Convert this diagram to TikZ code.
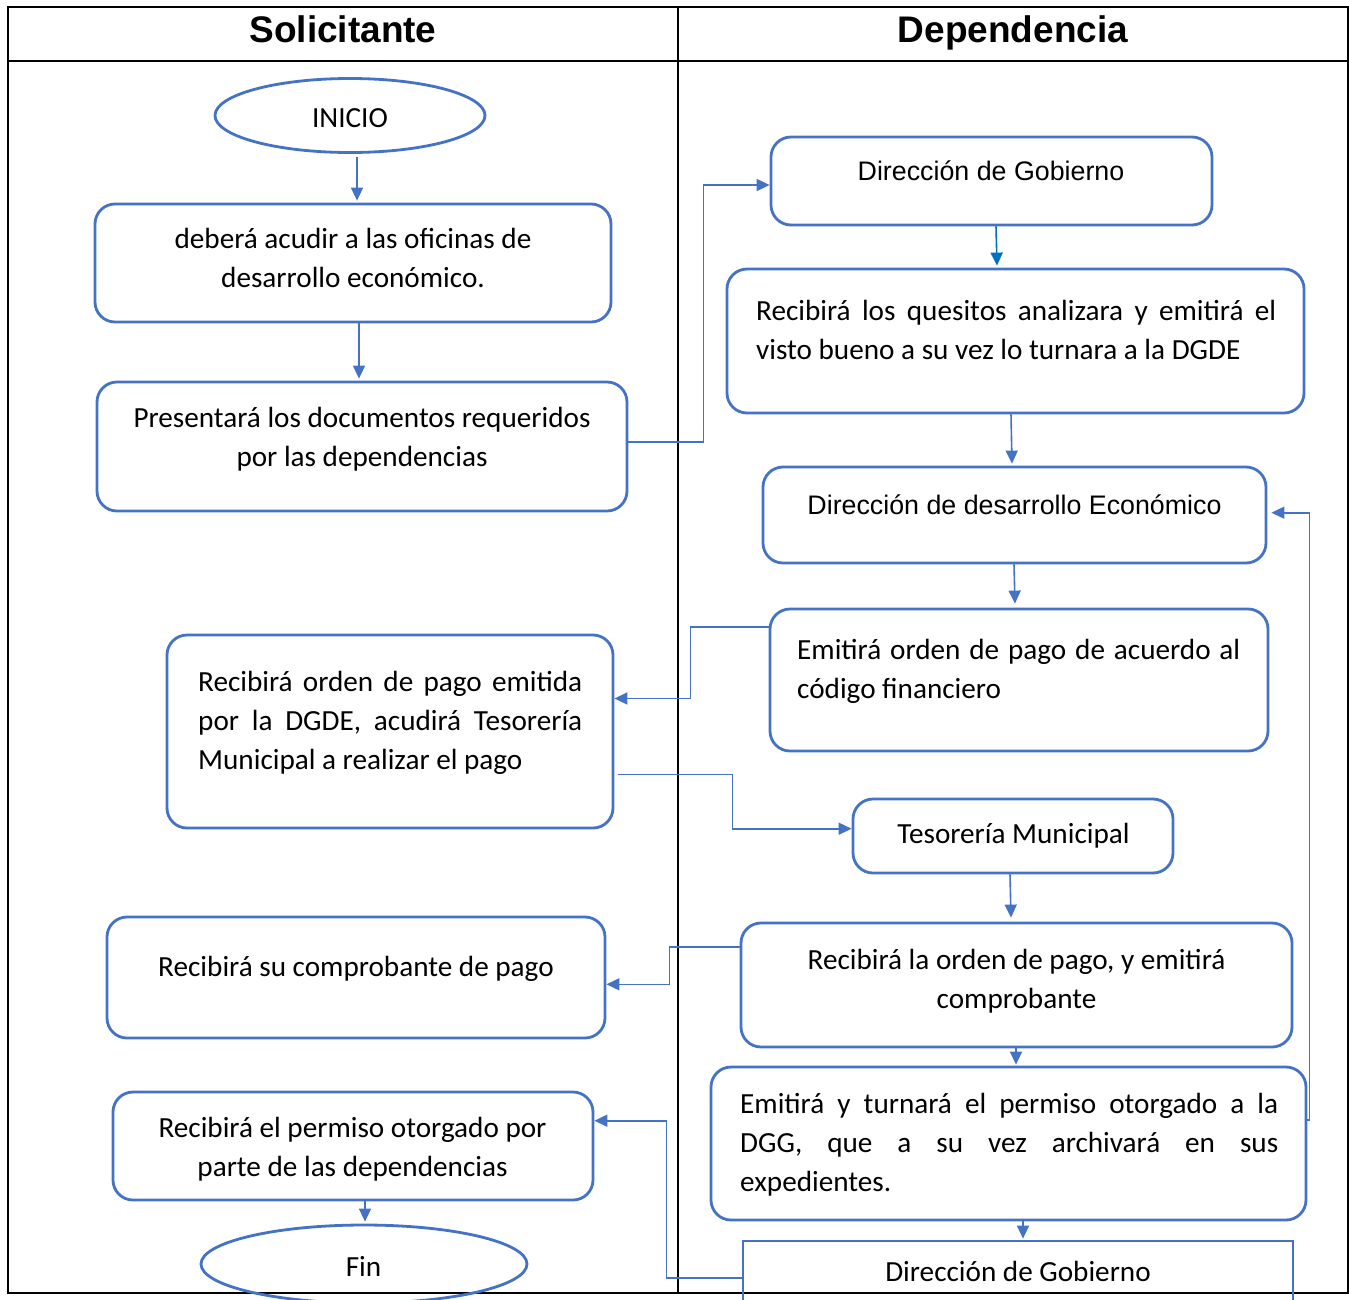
\documentclass[tikz,border=0pt]{standalone}
\usepackage{fontspec}
\setmainfont{Carlito}
\newfontfamily\arialfont{Liberation Sans}
\usetikzlibrary{arrows.meta,shapes.geometric}
\definecolor{flowblue}{HTML}{4472C4}
\definecolor{deepblue}{HTML}{0070C0}
% a line spread to a fixed width (justified)
\newcommand\fullline[2]{\makebox[#1][s]{#2}}
\begin{document}
\begin{tikzpicture}[x=1pt,y=-1pt,
  box/.style={draw=flowblue,line width=2.8pt,rounded corners=20pt,inner sep=0pt,fill=none},
  sharpbox/.style={draw=flowblue,line width=2.8pt,inner sep=0pt},
  oval/.style={ellipse,draw=flowblue,line width=2.8pt,inner sep=0pt},
  txt/.style={inner sep=0pt,font=\fontsize{29.2}{39}\selectfont,align=center},
  jtxt/.style={inner sep=0pt,font=\fontsize{29.2}{39}\selectfont,align=left,anchor=north west},
  atxt/.style={inner sep=0pt,font=\arialfont\fontsize{26.8}{33}\selectfont,anchor=base},
  head/.style={inner sep=0pt,font=\arialfont\bfseries\fontsize{37}{44}\selectfont,anchor=base},
  conn/.style={draw=flowblue,line width=1.6pt,-{Triangle[length=13pt,width=12pt]}},
  table/.style={draw=black,line width=2pt}]
\clip (0,0) rectangle (1349,1299);
\fill[white] (0,0) rectangle (1349,1299);

% swimlane table
\draw[table] (8,7) rectangle (1347.5,1293);
\draw[table] (8,61) -- (1347.5,61);
\draw[table] (678,7) -- (678,1293);
\node[head] (hSol) at (343,42) {Solicitante};
\node[head] (hDep) at (1013,42) {Dependencia};

% left lane: applicant
\node[oval,minimum width=270pt,minimum height=74pt] (b1) at (350,115.5) {};
\node[box,minimum width=516pt,minimum height=118pt] (b2) at (353,263) {};
\node[box,minimum width=530pt,minimum height=129pt] (b3) at (362,446.5) {};
\node[box,minimum width=446pt,minimum height=193pt] (b4) at (390,731.5) {};
\node[box,minimum width=498pt,minimum height=121pt] (b5) at (356,977.5) {};
\node[box,minimum width=480pt,minimum height=108pt] (b6) at (353,1146) {};
\node[oval,minimum width=326pt,minimum height=78pt] (b7) at (364,1264) {};

\node[txt,anchor=base] (t1) at (350,127.5) {INICIO};
\node[txt,anchor=north] (t2) at (353,220.7) {\strut deberá acudir a las oficinas de\\desarrollo económico.};
\node[txt,anchor=north] (t3) at (362,399.7) {\strut Presentará los documentos requeridos\\por las dependencias};
\node[jtxt] (t4) at (198,663.7) {\strut\fullline{384pt}{Recibirá orden de pago emitida}\\
  \fullline{384pt}{por la DGDE, acudirá Tesorería}\\Municipal a realizar el pago};
\node[txt,anchor=base] (t5) at (356,976) {Recibirá su comprobante de pago};
\node[txt,anchor=north] (t6) at (352.5,1109.7) {\strut Recibirá el permiso otorgado por\\parte de las dependencias};
\node[txt,anchor=base] (t7) at (363.5,1276) {Fin};

% right lane: offices
\node[box,minimum width=441pt,minimum height=88pt] (d1) at (991.5,181) {};
\node[box,minimum width=577pt,minimum height=144pt] (d2) at (1015.5,341) {};
\node[box,minimum width=503pt,minimum height=96pt] (d3) at (1014.5,515) {};
\node[box,minimum width=498pt,minimum height=142pt] (d4) at (1019,680) {};
\node[box,minimum width=320pt,minimum height=74pt] (d5) at (1013,836) {};
\node[box,minimum width=551pt,minimum height=124pt] (d6) at (1016.5,985) {};
\node[box,minimum width=595pt,minimum height=153pt] (d7) at (1008.5,1143.5) {};
\node[sharpbox,minimum width=550pt,minimum height=90pt] (d8) at (1018,1286) {};

\node[atxt] (s1) at (991,180) {Dirección de Gobierno};
\node[jtxt] (s2) at (756,292.7) {\strut\fullline{520pt}{Recibirá los quesitos analizara y emitirá el}\\
  visto bueno a su vez lo turnara a la DGDE};
\node[atxt] (s3) at (1014.5,514) {Dirección de desarrollo Económico};
\node[jtxt] (s4) at (797,631.7) {\strut\fullline{443pt}{Emitirá orden de pago de acuerdo al}\\código financiero};
\node[txt,anchor=base] (s5) at (1013.5,843) {Tesorería Municipal};
\node[txt,anchor=north] (s6) at (1016.5,941.7) {\strut Recibirá la orden de pago, y emitirá\\comprobante};
\node[jtxt] (s7) at (740,1085.7) {\strut\fullline{538pt}{Emitirá y turnará el permiso otorgado a la}\\
  \fullline{538pt}{DGG, que a su vez archivará en sus}\\expedientes.};
\node[txt,anchor=base] (s8) at (1018,1281) {Dirección de Gobierno};

% connectors
\draw[conn,shorten <=3pt] ([xshift=7pt]b1.south) -- ([xshift=4pt,yshift=2pt]b2.north);
\draw[conn] ([xshift=6pt]b2.south) -- ([xshift=-3pt,yshift=2pt]b3.north);
\draw[conn] ([yshift=4.5pt]b3.east) -- ++(75,0) |- ([yshift=-4pt]d1.west);
\draw[conn,draw=deepblue] ([xshift=4.5pt]d1.south) -- ([xshift=-18.5pt,yshift=2pt]d2.north);
\draw[conn] ([xshift=-4.5pt]d2.south) -- ([xshift=-2.5pt,yshift=2pt]d3.north);
\draw[conn] ([xshift=-0.5pt]d3.south) -- ([xshift=-4pt,yshift=4pt]d4.north);
\draw[conn] ([yshift=53pt]d4.west) -- ++(-78,0) |- ([yshift=33pt]b4.east);
\draw[conn] ([xshift=4pt,yshift=-42.8pt]b4.east) -- ++(114,0) |- ([yshift=7.3pt]d5.west);
\draw[conn] ([xshift=-3pt]d5.south) -- ([xshift=-5.5pt,yshift=4pt]d6.north);
\draw[conn] ([yshift=38.3pt]d6.west) -- ++(-70,0) |- ([yshift=-6.8pt]b5.east);
\draw[conn] ([xshift=-0.5pt]d6.south) -- ([xshift=7.5pt,yshift=1pt]d7.north);
\draw[conn] ([yshift=23.5pt]d7.east) -- ++(2,0) |- ([xshift=4pt,yshift=2.3pt]d3.east);
\draw[conn] ([xshift=14.5pt]d7.south) -- ([xshift=5pt,yshift=1pt]d8.north);
\draw[conn] ([yshift=8pt]d8.west) -- ++(-75,0) |- ([yshift=25.3pt]b6.east);
\draw[conn] ([xshift=12pt]b6.south) -- ([xshift=1pt,yshift=2pt]b7.north);
\end{tikzpicture}
\end{document}
